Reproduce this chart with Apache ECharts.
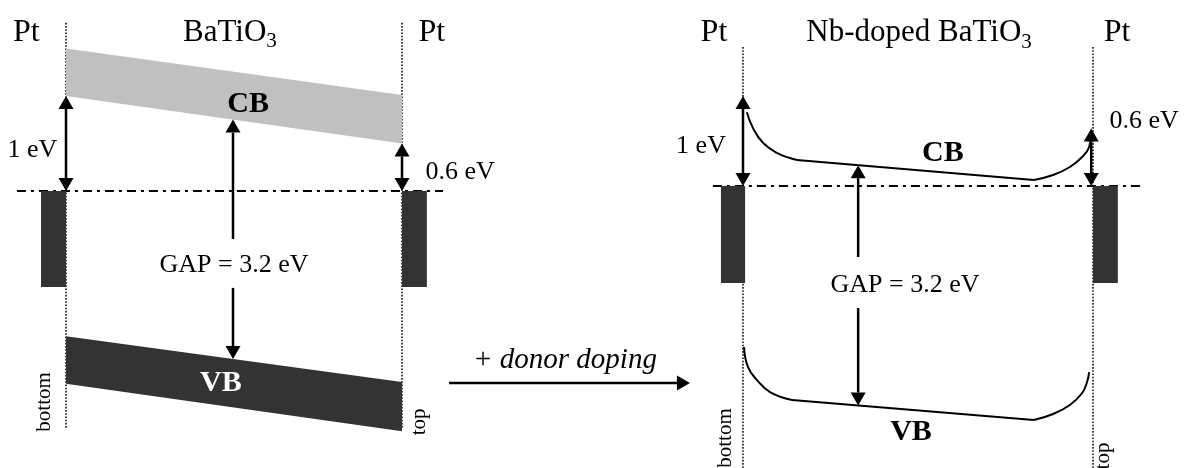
<!DOCTYPE html>
<html><head><meta charset="utf-8">
<script src="https://cdn.jsdelivr.net/npm/echarts@6/dist/echarts.min.js"></script>
<style>html,body{margin:0;padding:0;background:#fff}#c{width:1186px;height:468px}</style>
</head><body><div id="c"></div>
<script>
// ================= DATA =================
// position across the film: 0 = bottom electrode, 1 = top electrode
// energies in eV (diagram scale) relative to the Pt Fermi level
const filmEdges = [0, 1];
// undoped BaTiO3: tilted bands
const cbTopUndoped = [1.50, 1.01];
const cbBottomUndoped = [1.00, 0.50];
const vbTopUndoped = [-1.53, -2.01];
const vbBottomUndoped = [-2.03, -2.53];
// Nb-doped BaTiO3: conduction band edge (left bending, flat part, right bending)
const cbDopedLeftX = [0.011, 0.029, 0.057, 0.097, 0.134, 0.154];
const cbDopedLeftE = [0.82, 0.64, 0.48, 0.367, 0.311, 0.289];
const cbDopedMidX = [0.154, 0.831];
const cbDopedMidE = [0.289, 0.067];
const cbDopedRightX = [0.831, 0.886, 0.934, 0.969, 0.989, 0.994];
const cbDopedRightE = [0.067, 0.122, 0.211, 0.322, 0.433, 0.578];
// Nb-doped BaTiO3: valence band edge
const vbDopedLeftX = [0.003, 0.014, 0.040, 0.077, 0.140];
const vbDopedLeftE = [-1.789, -2.011, -2.156, -2.289, -2.378];
const vbDopedMidX = [0.140, 0.831];
const vbDopedMidE = [-2.378, -2.600];
const vbDopedRightX = [0.831, 0.886, 0.934, 0.969, 0.983, 0.989];
const vbDopedRightE = [-2.600, -2.533, -2.433, -2.300, -2.178, -2.067];
// Schottky barrier heights (arrow tops in the doped diagram)
const dopedBarrierTop = [1.0, 0.64];
const barrierLabels = ['1 eV', '0.6 eV'];
const gapLabel = 'GAP = 3.2 eV';
const electrodeLabel = 'Pt';
const filmLabels = ['BaTiO', 'Nb-doped BaTiO'];
const sideLabels = ['bottom', 'top'];
const dopingLabel = '+ donor doping';
const bandLabels = ['CB', 'VB'];

// ================= LAYOUT / STYLE =================
const SERIF = '"Liberation Serif","Times New Roman",serif';
const DARK = '#333333', LIGHT = '#c0c0c0';

function interp(xs, es, x) {
  for (let i = 0; i < xs.length - 1; i++) {
    if (x >= xs[i] && x <= xs[i + 1]) return es[i] + (es[i + 1] - es[i]) * (x - xs[i]) / (xs[i + 1] - xs[i]);
  }
  return x < xs[0] ? es[0] : es[es.length - 1];
}

const chart = echarts.init(document.getElementById('c'), null, { renderer: 'canvas' });

function arrowGroup(p0, p1, head0, head1) {
  const dx = p1[0] - p0[0], dy = p1[1] - p0[1];
  const L = Math.hypot(dx, dy) || 1, ux = dx / L, uy = dy / L;
  const hl = 13, hw = 7.5;
  const a = head0 ? [p0[0] + ux * hl, p0[1] + uy * hl] : p0;
  const b = head1 ? [p1[0] - ux * hl, p1[1] - uy * hl] : p1;
  const ch = [{ type: 'line', shape: { x1: a[0], y1: a[1], x2: b[0], y2: b[1] }, style: { stroke: '#000', lineWidth: 2.5 } }];
  const tri = (tip, base) => ({ type: 'polygon', shape: { points: [tip, [base[0] - uy * hw, base[1] + ux * hw], [base[0] + uy * hw, base[1] - ux * hw]] }, style: { fill: '#000' } });
  if (head0) ch.push(tri(p0, a));
  if (head1) ch.push(tri(p1, b));
  return { type: 'group', children: ch };
}

function custom(panel, data, render, z) {
  return {
    type: 'custom', coordinateSystem: 'cartesian2d', xAxisIndex: panel, yAxisIndex: panel,
    clip: false, silent: true, animation: false, z: z || 2, data: data,
    renderItem: function (params, api) { return render(params.dataIndex, api); }
  };
}

function labelSeries(panel, items) {
  return custom(panel, items.map((l, i) => [l.x, l.e, i]), function (i, api) {
    const l = items[i];
    const p = api.coord([l.x, l.e]);
    const style = {
      text: l.text, fontFamily: SERIF, fontSize: l.size || 26, fontWeight: l.bold ? 'bold' : 'normal',
      fontStyle: l.italic ? 'italic' : 'normal', fill: l.color || '#000', align: 'center', verticalAlign: 'middle'
    };
    if (l.rich) style.rich = l.rich;
    return { type: 'text', x: p[0], y: p[1], rotation: l.rot || 0, style: style };
  }, 10);
}

function subRich(size) {
  return {
    a: { fontFamily: SERIF, fontSize: size, lineHeight: size + 8 },
    s: { fontFamily: SERIF, fontSize: Math.round(size * 0.68), lineHeight: size + 8, verticalAlign: 'bottom' }
  };
}

// panel geometry (in data units)
const panels = [
  { fermiX: [-0.146, 1.122], dotE: [1.77, -2.495], elecL: [-0.0744, 0], elecR: [1, 1.074], elecDepth: -1.01,
    gapX: 0.497, gapBreak: [-0.505, -1.02] },
  { fermiX: [-0.086, 1.134], dotE: [1.544, -3.13], elecL: [-0.063, 0.006], elecR: [1, 1.071], elecDepth: -1.078,
    gapX: 0.329, gapBreak: [-0.789, -1.356] }
];

const series = [];

panels.forEach(function (pn, k) {
  // dotted interfaces
  series.push(custom(k, filmEdges.map(x => [x, 0]), function (i, api) {
    const a = api.coord([filmEdges[i], pn.dotE[0]]), b = api.coord([filmEdges[i], pn.dotE[1]]);
    return { type: 'line', shape: { x1: a[0], y1: a[1], x2: b[0], y2: b[1] }, style: { stroke: '#000', lineWidth: 1.5, lineDash: [1.6, 1.6] } };
  }, 1));
  // Fermi level
  series.push(custom(k, [[0, 0]], function (i, api) {
    const a = api.coord([pn.fermiX[0], 0]), b = api.coord([pn.fermiX[1], 0]);
    return { type: 'line', shape: { x1: a[0], y1: a[1], x2: b[0], y2: b[1] }, style: { stroke: '#000', lineWidth: 1.8, lineDash: [9, 5, 3, 5] } };
  }, 1));
  // electrodes
  series.push(custom(k, [[0, 0], [1, 0]], function (i, api) {
    const xr = i === 0 ? pn.elecL : pn.elecR;
    const a = api.coord([xr[0], 0]), b = api.coord([xr[1], pn.elecDepth]);
    return { type: 'rect', shape: { x: a[0], y: a[1], width: b[0] - a[0], height: b[1] - a[1] }, style: { fill: DARK } };
  }, 3));
});

// undoped bands
series.push(custom(0, [[0, 0], [1, 0]], function (i, api) {
  const top = i === 0 ? cbTopUndoped : vbTopUndoped, bot = i === 0 ? cbBottomUndoped : vbBottomUndoped;
  const pts = [api.coord([filmEdges[0], top[0]]), api.coord([filmEdges[1], top[1]]), api.coord([filmEdges[1], bot[1]]), api.coord([filmEdges[0], bot[0]])];
  return { type: 'polygon', shape: { points: pts }, style: { fill: i === 0 ? LIGHT : DARK } };
}, 2));

// doped band edges as line series
function curve(xs, es, smooth) {
  return { type: 'line', xAxisIndex: 1, yAxisIndex: 1, data: xs.map((x, i) => [x, es[i]]), smooth: smooth, symbol: 'none',
    lineStyle: { color: '#000', width: 2 }, silent: true, animation: false, z: 4 };
}
series.push(curve(cbDopedLeftX, cbDopedLeftE, 0.45));
series.push(curve(cbDopedMidX, cbDopedMidE, false));
series.push(curve(cbDopedRightX, cbDopedRightE, 0.45));
series.push(curve(vbDopedLeftX, vbDopedLeftE, 0.45));
series.push(curve(vbDopedMidX, vbDopedMidE, false));
series.push(curve(vbDopedRightX, vbDopedRightE, 0.45));

// arrows
const gapTop0 = interp(filmEdges, cbBottomUndoped, panels[0].gapX);
const gapBot0 = interp(filmEdges, vbTopUndoped, panels[0].gapX);
const gapTop1 = interp(cbDopedMidX, cbDopedMidE, panels[1].gapX);
const gapBot1 = interp(vbDopedMidX, vbDopedMidE, panels[1].gapX);
const arrows = [
  [
    { a: [filmEdges[0], 0], b: [filmEdges[0], cbBottomUndoped[0]], h: [1, 1] },
    { a: [filmEdges[1], 0], b: [filmEdges[1], cbBottomUndoped[1]], h: [1, 1] },
    { a: [panels[0].gapX, panels[0].gapBreak[0]], b: [panels[0].gapX, gapTop0], h: [0, 1] },
    { a: [panels[0].gapX, panels[0].gapBreak[1]], b: [panels[0].gapX, gapBot0], h: [0, 1] },
    { a: [1.14, -2.02], b: [1.857, -2.02], h: [0, 1] }
  ],
  [
    { a: [filmEdges[0], 0], b: [filmEdges[0], dopedBarrierTop[0]], h: [1, 1] },
    { a: [0.995, 0], b: [0.995, dopedBarrierTop[1]], h: [1, 1] },
    { a: [panels[1].gapX, panels[1].gapBreak[0]], b: [panels[1].gapX, gapTop1], h: [0, 1] },
    { a: [panels[1].gapX, panels[1].gapBreak[1]], b: [panels[1].gapX, gapBot1], h: [0, 1] }
  ]
];
arrows.forEach(function (list, k) {
  series.push(custom(k, list.map(o => o.a), function (i, api) {
    const o = list[i];
    return arrowGroup(api.coord(o.a), api.coord(o.b), o.h[0], o.h[1]);
  }, 6));
});

// labels
const R90 = Math.PI / 2;
series.push(labelSeries(0, [
  { text: electrodeLabel, x: -0.118, e: 1.665, size: 32 },
  { text: '{a|' + filmLabels[0] + '}{s|3}', rich: subRich(31), x: 0.488, e: 1.665, size: 31 },
  { text: electrodeLabel, x: 1.089, e: 1.665, size: 32 },
  { text: bandLabels[0], x: 0.542, e: 0.916, size: 30, bold: true },
  { text: bandLabels[1], x: 0.461, e: -2.02, size: 30, bold: true, color: '#fff' },
  { text: barrierLabels[0], x: -0.1, e: 0.43, size: 26 },
  { text: barrierLabels[1], x: 1.173, e: 0.2, size: 26 },
  { text: gapLabel, x: 0.5, e: -0.78, size: 26 },
  { text: sideLabels[0], x: -0.064, e: -2.22, size: 21, rot: R90 },
  { text: sideLabels[1], x: 1.051, e: -2.43, size: 21, rot: R90 },
  { text: dopingLabel, x: 1.485, e: -1.78, size: 29, italic: true }
]));
series.push(labelSeries(1, [
  { text: electrodeLabel, x: -0.083, e: 1.70, size: 32 },
  { text: '{a|' + filmLabels[1] + '}{s|3}', rich: subRich(31), x: 0.503, e: 1.70, size: 31 },
  { text: electrodeLabel, x: 1.069, e: 1.70, size: 32 },
  { text: bandLabels[0], x: 0.571, e: 0.367, size: 30, bold: true },
  { text: bandLabels[1], x: 0.48, e: -2.733, size: 30, bold: true },
  { text: barrierLabels[0], x: -0.12, e: 0.444, size: 26 },
  { text: barrierLabels[1], x: 1.146, e: 0.72, size: 26 },
  { text: gapLabel, x: 0.463, e: -1.1, size: 26 },
  { text: sideLabels[0], x: -0.051, e: -2.8, size: 21, rot: R90 },
  { text: sideLabels[1], x: 1.031, e: -3.0, size: 21, rot: R90 }
]));

chart.setOption({
  backgroundColor: '#fff',
  animation: false,
  grid: [
    { left: 15.6, top: 1, width: 436.8, height: 465.5 },
    { left: 708, top: 6, width: 437.5, height: 459 }
  ],
  xAxis: [
    { gridIndex: 0, type: 'value', min: -0.15, max: 1.15, show: false },
    { gridIndex: 1, type: 'value', min: -0.1, max: 1.15, show: false }
  ],
  yAxis: [
    { gridIndex: 0, type: 'value', min: -2.9, max: 2.0, show: false },
    { gridIndex: 1, type: 'value', min: -3.1, max: 2.0, show: false }
  ],
  series: series
});
</script>
</body></html>
